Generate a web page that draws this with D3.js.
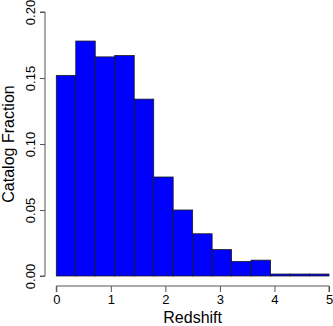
<!DOCTYPE html>
<html><head><meta charset="utf-8">
<script src="https://cdn.jsdelivr.net/npm/d3@7"></script>
<style>body{margin:0;background:#fff}svg{display:block}</style>
</head><body>
<script>
const binEdges = [0,0.357,0.714,1.071,1.429,1.786,2.143,2.5,2.857,3.214,3.571,3.929,4.286,4.643,5];
const fractions = [0.152,0.178,0.166,0.167,0.134,0.075,0.050,0.032,0.020,0.011,0.012,0.0015,0.0015,0.0015];
const xTicks = [0,1,2,3,4,5];
const yTicks = [0,0.05,0.10,0.15,0.20];
const xLabel = "Redshift", yLabel = "Catalog Fraction";

const W=333,H=326;
const svg=d3.select("body").append("svg").attr("width",W).attr("height",H);
const x=d3.scaleLinear().domain([0,5]).range([56.3,329]);
const y=d3.scaleLinear().domain([0,0.2]).range([276,12]);
const font="Liberation Sans, Arial, sans-serif";

const bins=fractions.map((v,i)=>({x0:binEdges[i],x1:binEdges[i+1],v}));
svg.selectAll("rect.bar").data(bins).enter().append("rect")
  .attr("x",d=>x(d.x0)).attr("width",d=>x(d.x1)-x(d.x0))
  .attr("y",d=>y(d.v)).attr("height",d=>y(0)-y(d.v))
  .attr("fill","#0000ff").attr("stroke","#1a1a1a").attr("stroke-width",0.8);

// x axis
const xa=svg.append("g").attr("transform","translate(0,286)")
  .call(d3.axisBottom(x).tickValues(xTicks).tickFormat(d3.format("d")).tickSize(6).tickPadding(3));
xa.select(".domain").attr("stroke","#555").attr("d",`M${x(0)},6V0H${x(5)}V6`);
xa.selectAll(".tick line").attr("stroke","#555");
xa.selectAll("text").attr("font-family",font).attr("font-size",13).attr("fill","#000");

// y axis
const ya=svg.append("g").attr("transform","translate(45,0)")
  .call(d3.axisLeft(y).tickValues(yTicks).tickFormat(d3.format(".2f")).tickSize(5));
ya.select(".domain").attr("stroke","#555").attr("d",`M-5,${y(0)}H0V${y(0.2)}H-5`);
ya.selectAll(".tick line").attr("stroke","#555");
ya.selectAll("text").attr("font-family",font).attr("font-size",13).attr("fill","#000")
  .attr("transform","rotate(-90)").attr("text-anchor","middle")
  .attr("x",0).attr("dy",0).attr("y",-10);

svg.append("text").attr("x",(x(0)+x(5))/2).attr("y",323).attr("text-anchor","middle")
  .attr("font-family",font).attr("font-size",16).text(xLabel);
svg.append("text").attr("transform",`translate(14,${(y(0)+y(0.2))/2}) rotate(-90)`)
  .attr("text-anchor","middle").attr("font-family",font).attr("font-size",16).text(yLabel);
</script>
</body></html>
